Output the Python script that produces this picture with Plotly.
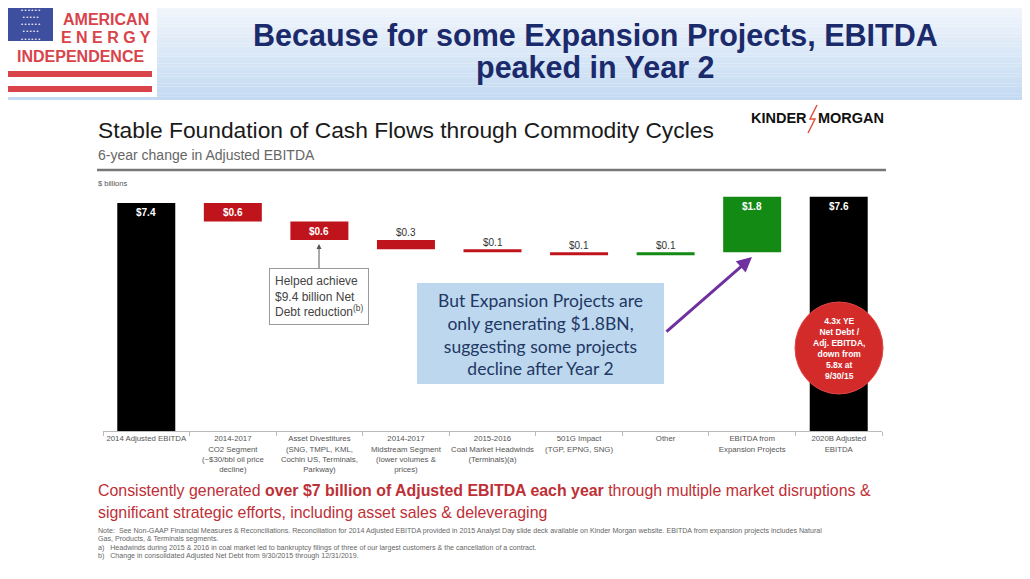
import plotly.graph_objects as go

# ---------------- data ----------------
categories = [
    "2014 Adjusted EBITDA",
    "2014-2017<br>CO2 Segment<br>(~$30/bbl oil price<br>decline)",
    "Asset Divestitures<br>(SNG, TMPL, KML,<br>Cochin US, Terminals,<br>Parkway)",
    "2014-2017<br>Midstream Segment<br>(lower volumes &<br>prices)",
    "2015-2016<br>Coal Market Headwinds<br>(Terminals)(a)",
    "501G Impact<br>(TGP, EPNG, SNG)",
    "Other",
    "EBITDA from<br>Expansion Projects",
    "2020B Adjusted<br>EBITDA",
]
measures = ["absolute", "relative", "relative", "relative", "relative",
            "relative", "relative", "relative", "total"]
values = [7.4, -0.6, -0.6, -0.3, -0.1, -0.1, 0.1, 1.8, 0]
label_inside = [True, True, True, False, False, False, False, True, True]

# ---------------- geometry helpers (reference page pixels -> paper) ----------------
OFF = 8                      # browser body margin
W, H = 1030 - 2 * OFF, 579 - 2 * OFF
L, R, T, B = 103, 882, 190, 431   # plot area in reference pixels
PW, PH = R - L, B - T


def px(x):
    return (x - L) / PW


def py(y):
    return (B - y) / PH


def note(text, x, y, font, xanchor="center", yanchor="middle", **kw):
    d = dict(text=text, x=px(x), y=py(y), xref="paper", yref="paper", showarrow=False,
             xanchor=xanchor, yanchor=yanchor, font=font)
    d.update(kw)
    return d


# cumulative levels for labels
tops = []
totals = []
level = 0.0
for m, v in zip(measures, values):
    if m == "absolute":
        start, end = 0.0, v
        level = v
    elif m == "relative":
        start, end = level, level + v
        level = level + v
    else:
        start, end = 0.0, level
    tops.append(max(start, end))
    totals.append(end - start)
labels = ["$%.1f" % abs(t) for t in totals]

fig = go.Figure()
fig.add_trace(go.Waterfall(
    x=categories, y=values, measure=measures,
    decreasing=dict(marker=dict(color="#C0141C")),
    increasing=dict(marker=dict(color="#138A13")),
    totals=dict(marker=dict(color="#000000")),
    connector=dict(visible=False),
    textposition="none", hoverinfo="skip", showlegend=False,
))

shapes = []
annotations = []

# value labels attached to the bars (data coordinates)
for c, t, s, inside in zip(categories, tops, labels, label_inside):
    if inside:
        annotations.append(dict(text=s, x=c, y=t, xref="x", yref="y", showarrow=False,
                                yanchor="middle", yshift=-10,
                                font=dict(family="Liberation Sans", size=10, color="white", weight="bold")))
    else:
        annotations.append(dict(text=s, x=c, y=t, xref="x", yref="y", showarrow=False,
                                yanchor="middle", yshift=7,
                                font=dict(family="Liberation Sans", size=10, color="#333333")))

# header gradient band
n = 30
c0 = (244, 248, 253)
c1 = (196, 218, 242)
for i in range(n):
    t = i / (n - 1)
    c = tuple(int(c0[k] + (c1[k] - c0[k]) * t) for k in range(3))
    y0 = 100 * i / n
    y1 = 100 * (i + 1) / n
    shapes.append(dict(type="rect", xref="paper", yref="paper", x0=px(-10), x1=px(1040),
                       y0=py(y1), y1=py(y0), fillcolor="rgb(%d,%d,%d)" % c, line=dict(width=0),
                       layer="below"))

# logo box
shapes.append(dict(type="rect", xref="paper", yref="paper", x0=px(3), x1=px(157), y0=py(97), y1=py(3),
                   fillcolor="white", line=dict(width=0)))
shapes.append(dict(type="rect", xref="paper", yref="paper", x0=px(8), x1=px(53), y0=py(41), y1=py(8),
                   fillcolor="#3F4F9F", line=dict(width=0)))
for ys in [(71, 77), (86, 92)]:
    shapes.append(dict(type="rect", xref="paper", yref="paper", x0=px(7), x1=px(152), y0=py(ys[1]), y1=py(ys[0]),
                       fillcolor="#D9434A", line=dict(width=0)))
annotations.append(note("• • • • • •<br>• • • • •<br>• • • • • •<br>• • • • •<br>• • • • • •",
                        30.5, 24.5, dict(family="Liberation Sans", size=5.5, color="white")))
logo_font = dict(family="Liberation Sans", size=16, color="#D9434A", weight="bold")
annotations.append(note("AMERICAN", 106, 8.5, logo_font, yanchor="top"))
annotations.append(note("E N E R G Y", 106, 37.5, logo_font))
annotations.append(note("INDEPENDENCE", 80, 56.5, logo_font))

# header title
tfont = dict(family="Liberation Sans", size=30.5, color="#1B2A6B", weight="bold")
annotations.append(note("Because for some Expansion Projects, EBITDA", 595, 35, tfont))
annotations.append(note("peaked in Year 2", 595, 67, tfont))

# slide title, subtitle, rule
annotations.append(note("Stable Foundation of Cash Flows through Commodity Cycles", 96, 130,
                        dict(family="Liberation Sans", size=22.8, color="#1a1a1a"), xanchor="left"))
annotations.append(note("6-year change in Adjusted EBITDA", 96, 155,
                        dict(family="Liberation Sans", size=14, color="#666666"), xanchor="left"))
shapes.append(dict(type="line", xref="paper", yref="paper", x0=px(97), x1=px(886), y0=py(170), y1=py(170),
                   line=dict(color="#777777", width=2.5)))
annotations.append(note("$ billions", 96, 183,
                        dict(family="Liberation Sans", size=7.5, color="#555555"), xanchor="left"))

# Kinder Morgan logo
kfont = dict(family="Liberation Sans", size=14.5, color="#111111", weight="bold")
annotations.append(note("KINDER", 809, 118, kfont, xanchor="right"))
annotations.append(note("MORGAN", 816, 118, kfont, xanchor="left"))
shapes.append(dict(type="path", xref="paper", yref="paper",
                   path="M %f,%f L %f,%f L %f,%f L %f,%f" % (px(817), py(105), px(810), py(119),
                                                              px(815), py(119), px(808), py(133)),
                   line=dict(color="#E0533F", width=1.5)))

# Helped achieve box with arrow
annotations.append(dict(text="Helped achieve<br>$9.4 billion Net<br>Debt reduction<sup>(b)</sup>",
                        x=px(319), y=py(244), xref="paper", yref="paper",
                        showarrow=True, ax=0, ay=52, axref="pixel", ayref="pixel",
                        arrowhead=2, arrowsize=1, arrowwidth=1, arrowcolor="#555555",
                        align="left", bordercolor="#999999", borderwidth=1, borderpad=5, bgcolor="white",
                        font=dict(family="Liberation Sans", size=12, color="#444444")))

# blue callout box
shapes.append(dict(type="rect", xref="paper", yref="paper", x0=px(417), x1=px(664), y0=py(384), y1=py(283),
                   fillcolor="#BDD7EE", line=dict(width=0)))
annotations.append(note("But Expansion Projects are<br>only generating $1.8BN,<br>suggesting some projects<br>decline after Year 2",
                        540, 334, dict(family="Lato", size=17.5, color="#1F3864")))
# purple arrow
annotations.append(dict(text="", x=px(752), y=py(257), xref="paper", yref="paper",
                        showarrow=True, ax=-87, ay=76, axref="pixel", ayref="pixel",
                        arrowhead=2, arrowsize=1, arrowwidth=3, arrowcolor="#7030A0"))

# red circle
shapes.append(dict(type="circle", xref="paper", yref="paper", x0=px(795), x1=px(883), y0=py(394), y1=py(302),
                   fillcolor="#D32A2A", line=dict(color="#E04545", width=1)))
annotations.append(note("4.3x YE<br>Net Debt /<br>Adj. EBITDA,<br>down from<br>5.8x at<br>9/30/15",
                        839, 348, dict(family="Liberation Sans", size=8.5, color="white", weight="bold")))

# bottom red statement
rfont = dict(family="Liberation Sans", size=15.9, color="#BE2F36")
annotations.append(note("Consistently generated <b>over $7 billion of Adjusted EBITDA each year</b> through multiple market disruptions &",
                        96, 490, rfont, xanchor="left"))
annotations.append(note("significant strategic efforts, including asset sales & deleveraging",
                        96, 512, rfont, xanchor="left"))

# notes
nfont = dict(family="Liberation Sans", size=7.1, color="#666666")
notes = [
    (531, "Note:  See Non-GAAP Financial Measures & Reconciliations. Reconciliation for 2014 Adjusted EBITDA provided in 2015 Analyst Day slide deck available on Kinder Morgan website. EBITDA from expansion projects includes Natural"),
    (539, "Gas, Products, & Terminals segments."),
    (548, "a)   Headwinds during 2015 & 2016 in coal market led to bankruptcy filings of three of our largest customers & the cancellation of a contract."),
    (556, "b)   Change in consolidated Adjusted Net Debt from 9/30/2015 through 12/31/2019."),
]
for yy, tx in notes:
    annotations.append(note(tx, 96, yy, nfont, xanchor="left"))

fig.update_layout(
    width=W, height=H,
    margin=dict(l=L - OFF, r=W - (R - OFF), t=T - OFF, b=H - (B - OFF), autoexpand=False),
    paper_bgcolor="white", plot_bgcolor="white",
    waterfallgap=0.33,
    xaxis=dict(type="category", showline=True, linecolor="#BBBBBB", linewidth=1,
               ticks="outside", tickson="boundaries", ticklen=4, tickcolor="#BBBBBB",
               tickfont=dict(family="Liberation Sans", size=7.8, color="#555555"),
               showgrid=False, zeroline=False, tickangle=0, fixedrange=True),
    yaxis=dict(range=[0, 7.82], visible=False, showgrid=False, zeroline=False, fixedrange=True),
    shapes=shapes, annotations=annotations,
    showlegend=False,
)

fig.write_html("out.html")
